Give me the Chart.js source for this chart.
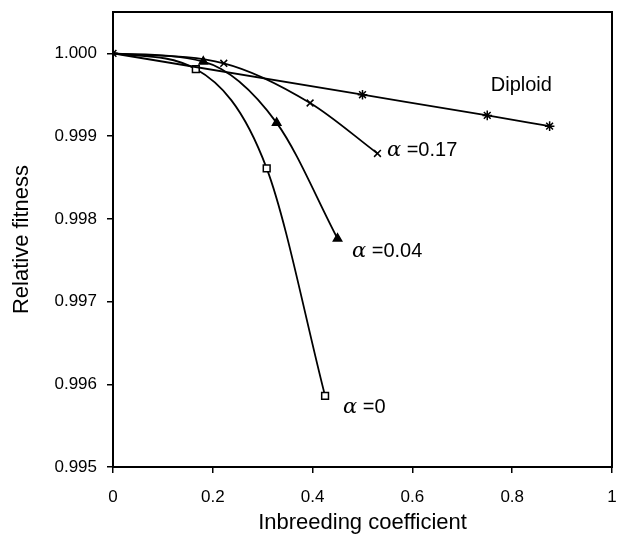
<!DOCTYPE html>
<html>
<head>
<meta charset="utf-8">
<script src="https://cdn.jsdelivr.net/npm/chart.js@4/dist/chart.umd.min.js"></script>
<style>
  html, body { margin: 0; padding: 0; background: #fff; }
  #wrap { width: 627px; height: 540px; }
</style>
</head>
<body>
<div id="wrap"><canvas id="fitness-chart" width="627" height="540"></canvas></div>
<script>
// inbreeding coefficient (x) and relative fitness (y) per series
const diploidX = [0, 0.5, 0.75, 0.875];
const diploidY = [1.0, 0.9995, 0.99925, 0.99912];
const alpha0X = [0, 0.166, 0.308, 0.425];
const alpha0Y = [1.0, 0.99981, 0.99861, 0.99586];
const alpha004X = [0, 0.181, 0.328, 0.45];
const alpha004Y = [1.0, 0.9999, 0.99916, 0.99776];
const alpha017X = [0, 0.222, 0.395, 0.53];
const alpha017Y = [1.0, 0.99988, 0.9994, 0.99879];

const yTicks = [0.995, 0.996, 0.997, 0.998, 0.999, 1.0];
const xTicks = [0, 0.2, 0.4, 0.6, 0.8, 1];

// curve labels: [greek part, rest, x, y]
const curveLabels = [
    ["", "Diploid", 0.757, 0.99961],
    ["α", " =0.17", 0.549, 0.99882],
    ["α", " =0.04", 0.479, 0.99761],
    ["α", " =0", 0.461, 0.99572],
];

const FONT = "'Liberation Sans', Arial, sans-serif";

function toPoints(xs, ys) {
    return xs.map((x, i) => ({ x: x, y: ys[i] }));
}

function series(label, xs, ys, style, fill, hideFirst) {
    return {
        label: label,
        data: toPoints(xs, ys),
        borderColor: "#000",
        backgroundColor: fill,
        borderWidth: 1.8,
        pointStyle: style,
        // shared origin point: only the diploid marker shows there
        pointRadius: (c) => (hideFirst && c.dataIndex === 0 ? 0 : 4.8),
        pointBorderColor: "#000",
        pointBorderWidth: 1.5,
        pointBackgroundColor: fill,
        cubicInterpolationMode: "monotone",
        fill: false,
    };
}

// frame round the plot area + curve labels
const framePlugin = {
    id: "frame",
    afterDraw(chart) {
        const { ctx, chartArea: a, scales } = chart;
        ctx.save();
        ctx.strokeStyle = "#000";
        ctx.lineWidth = 2;
        ctx.strokeRect(a.left, a.top, a.right - a.left, a.bottom - a.top);

        ctx.fillStyle = "#000";
        ctx.textBaseline = "middle";
        curveLabels.forEach(([greek, rest, x, y]) => {
            let px = scales.x.getPixelForValue(x);
            const py = scales.y.getPixelForValue(y);
            if (greek) {
                ctx.font = "italic 21px 'DejaVu Serif', serif";
                ctx.fillText(greek, px, py);
                px += ctx.measureText(greek).width;
            }
            ctx.font = "20px " + FONT;
            ctx.fillText(rest, px, py);
        });
        ctx.restore();
    },
};

new Chart(document.getElementById("fitness-chart").getContext("2d"), {
    type: "line",
    data: {
        datasets: [
            series("Diploid", diploidX, diploidY, "star", "#000", false),
            series("α=0", alpha0X, alpha0Y, "rect", "#fff", true),
            series("α=0.04", alpha004X, alpha004Y, "triangle", "#000", true),
            series("α=0.17", alpha017X, alpha017Y, "crossRot", "#000", true),
        ],
    },
    options: {
        responsive: false,
        animation: false,
        layout: { padding: { left: 0, right: 15, top: 12, bottom: 0 } },
        plugins: {
            legend: { display: false },
            tooltip: { enabled: false },
        },
        scales: {
            x: {
                type: "linear",
                min: 0,
                max: 1,
                afterBuildTicks: (s) => { s.ticks = xTicks.map((v) => ({ value: v })); },
                afterFit: (s) => {
                    s.height = 73;
                    s.paddingLeft = 0;
                    s.paddingRight = 0;
                },
                grid: { drawOnChartArea: false, tickLength: 6, color: "#000", lineWidth: 1.5 },
                border: { color: "#000", width: 2 },
                ticks: {
                    color: "#000",
                    font: { family: FONT, size: 17 },
                    padding: 14,
                    callback: (v) => String(v),
                },
                title: {
                    display: true,
                    text: "Inbreeding coefficient",
                    color: "#000",
                    font: { family: FONT, size: 22 },
                    padding: { top: 2, bottom: 4 },
                },
            },
            y: {
                type: "linear",
                min: 0.995,
                max: 1.0005,
                afterBuildTicks: (s) => { s.ticks = yTicks.map((v) => ({ value: v })); },
                afterFit: (s) => {
                    s.width = 113;
                    s.paddingTop = 0;
                    s.paddingBottom = 0;
                },
                grid: { drawOnChartArea: false, tickLength: 6, color: "#000", lineWidth: 1.5 },
                border: { color: "#000", width: 2 },
                ticks: {
                    color: "#000",
                    font: { family: FONT, size: 17 },
                    padding: 10,
                    callback: (v) => v.toFixed(3),
                },
                title: {
                    display: true,
                    text: "Relative fitness",
                    color: "#000",
                    font: { family: FONT, size: 22 },
                    padding: { top: 9, bottom: 4 },
                },
            },
        },
    },
    plugins: [framePlugin],
});
</script>
</body>
</html>
